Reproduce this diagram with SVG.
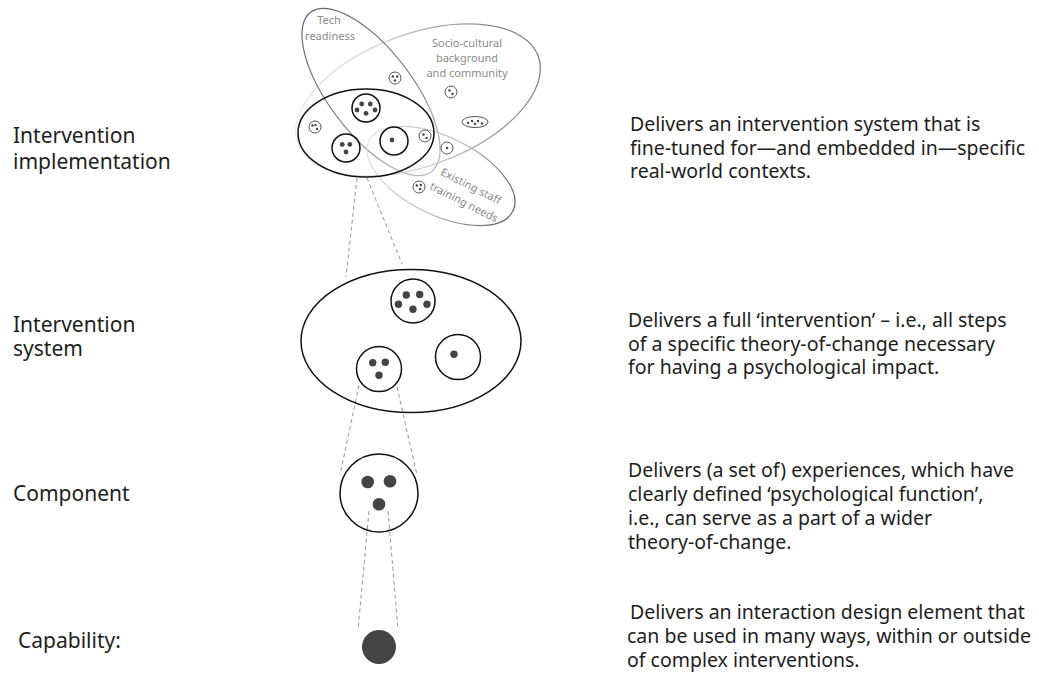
<svg xmlns="http://www.w3.org/2000/svg" width="1039" height="679" viewBox="0 0 1039 679">
<style>
  .lbl { font-family: "Noto Sans", "Open Sans", sans-serif; font-size: 21px; fill: #1e1e1e; }
  .desc { font-family: "Noto Sans", "Open Sans", sans-serif; font-size: 19.5px; fill: #1e1e1e; }
  .ctx { font-family: "Noto Sans", "Open Sans", sans-serif; font-size: 11px; fill: #8a8a8a; text-anchor: middle; }
  .ring { fill: none; stroke: #111; stroke-width: 1.5; }
  .dot { fill: #444; }
  .mini { fill: #fff; stroke: #555; stroke-width: 1; }
  .mdot { fill: #444; }
  .dash { stroke: #999; stroke-width: 1; stroke-dasharray: 4 3; fill: none; }
</style>
<defs>
  <linearGradient id="gSocio" x1="0" y1="0" x2="1" y2="0">
    <stop offset="0" stop-color="#ececec"/>
    <stop offset="0.45" stop-color="#c8c8c8"/>
    <stop offset="1" stop-color="#777"/>
  </linearGradient>
  <linearGradient id="gStaff" x1="0" y1="0" x2="1" y2="0">
    <stop offset="0" stop-color="#e2e2e2"/>
    <stop offset="0.5" stop-color="#bbb"/>
    <stop offset="1" stop-color="#666"/>
  </linearGradient>
  <linearGradient id="gTech" x1="0" y1="0" x2="1" y2="0">
    <stop offset="0" stop-color="#666"/>
    <stop offset="0.6" stop-color="#888"/>
    <stop offset="1" stop-color="#bbb"/>
  </linearGradient>
</defs>

<!-- Left labels -->
<g id="labels-left">
  <text class="lbl" x="13" y="143">Intervention</text>
  <text class="lbl" x="13" y="169">implementation</text>
  <text class="lbl" x="13" y="332">Intervention</text>
  <text class="lbl" x="13" y="356">system</text>
  <text class="lbl" x="13" y="501">Component</text>
  <text class="lbl" x="18" y="648">Capability:</text>
</g>

<!-- Right descriptions -->
<g id="descriptions">
  <text class="desc" x="630" y="131">Delivers an intervention system that is</text>
  <text class="desc" x="630" y="154.5">fine-tuned for—and embedded in—specific</text>
  <text class="desc" x="630" y="178">real-world contexts.</text>

  <text class="desc" x="628" y="327">Delivers a full ‘intervention’ – i.e., all steps</text>
  <text class="desc" x="628" y="351">of a specific theory-of-change necessary</text>
  <text class="desc" x="628" y="374">for having a psychological impact.</text>

  <text class="desc" x="628" y="477">Delivers (a set of) experiences, which have</text>
  <text class="desc" x="628" y="501">clearly defined ‘psychological function’,</text>
  <text class="desc" x="628" y="525">i.e., can serve as a part of a wider</text>
  <text class="desc" x="628" y="549">theory-of-change.</text>

  <text class="desc" x="630" y="619">Delivers an interaction design element that</text>
  <text class="desc" x="627" y="643">can be used in many ways, within or outside</text>
  <text class="desc" x="627" y="667">of complex interventions.</text>
</g>

<!-- Context ellipses -->
<g id="context-socio">
  <ellipse cx="0" cy="0" rx="128" ry="66" transform="translate(418,100) rotate(-20)" fill="none" stroke="url(#gSocio)" stroke-width="1.2"/>
  <text class="ctx" x="467" y="47">Socio-cultural</text>
  <text class="ctx" x="467" y="62">background</text>
  <text class="ctx" x="467" y="77">and community</text>
</g>
<g id="context-tech">
  <ellipse cx="0" cy="0" rx="100" ry="42" transform="translate(371,92) rotate(52.8)" fill="none" stroke="url(#gTech)" stroke-width="1.2"/>
  <text class="ctx" x="329" y="24">Tech</text>
  <text class="ctx" x="330" y="40">readiness</text>
</g>
<g id="context-staff">
  <ellipse cx="0" cy="0" rx="80" ry="39" transform="translate(441,176) rotate(26)" fill="none" stroke="url(#gStaff)" stroke-width="1.2"/>
  <text class="ctx" transform="translate(471,186) rotate(27)" x="0" y="4">Existing staff</text>
  <text class="ctx" transform="translate(464,202) rotate(27)" x="0" y="4">training needs</text>
</g>

<!-- Connectors -->
<g id="connectors">
  <line class="dash" x1="357" y1="178" x2="346" y2="277"/>
  <line class="dash" x1="367" y1="178" x2="402" y2="264"/>
  <line class="dash" x1="359" y1="385" x2="340" y2="475"/>
  <line class="dash" x1="397" y1="387" x2="417" y2="475"/>
  <line class="dash" x1="369" y1="511" x2="358" y2="630"/>
  <line class="dash" x1="388" y1="511" x2="398" y2="630"/>
</g>

<!-- Intervention implementation -->
<g id="node-implementation">
  <ellipse class="ring" cx="366" cy="133" rx="68" ry="44" stroke-width="1.8"/>
  <circle class="ring" cx="366" cy="108" r="14"/>
  <circle class="dot" cx="361.7" cy="104" r="2.4"/>
  <circle class="dot" cx="370.3" cy="104" r="2.4"/>
  <circle class="dot" cx="357" cy="110" r="2.4"/>
  <circle class="dot" cx="366" cy="113.3" r="2.4"/>
  <circle class="dot" cx="375" cy="110" r="2.4"/>
  <circle class="ring" cx="346" cy="148" r="14"/>
  <circle class="dot" cx="342.2" cy="144.4" r="2.4"/>
  <circle class="dot" cx="349.8" cy="144.4" r="2.4"/>
  <circle class="dot" cx="346" cy="152" r="2.4"/>
  <circle class="ring" cx="394" cy="141" r="14"/>
  <circle class="dot" cx="392" cy="140" r="2.4"/>
</g>

<!-- Small context items -->
<g id="mini-items">
  <circle class="mini" cx="315" cy="127" r="6"/>
  <circle class="mdot" cx="312.5" cy="125.5" r="1.2"/><circle class="mdot" cx="315.5" cy="125" r="1.2"/><circle class="mdot" cx="317" cy="129" r="1.2"/>
  <circle class="mini" cx="395" cy="78" r="6"/>
  <circle class="mdot" cx="392.8" cy="76.5" r="1.2"/><circle class="mdot" cx="397.2" cy="76.5" r="1.2"/><circle class="mdot" cx="395" cy="80.5" r="1.2"/>
  <circle class="mini" cx="451" cy="92" r="6"/>
  <circle class="mdot" cx="449.5" cy="90.5" r="1.2"/><circle class="mdot" cx="452.5" cy="94" r="1.2"/>
  <ellipse class="mini" cx="475" cy="122" rx="13" ry="5.5"/>
  <circle class="mdot" cx="468" cy="123" r="1.2"/><circle class="mdot" cx="472" cy="121" r="1.2"/><circle class="mdot" cx="475" cy="124" r="1.2"/><circle class="mdot" cx="478" cy="121" r="1.2"/><circle class="mdot" cx="482" cy="123.5" r="1.2"/>
  <circle class="mini" cx="425" cy="136" r="6"/>
  <circle class="mdot" cx="423.5" cy="134.5" r="1.2"/><circle class="mdot" cx="426.5" cy="138" r="1.2"/>
  <circle class="mini" cx="447" cy="148" r="6"/>
  <circle class="mdot" cx="447" cy="148" r="1.2"/>
  <circle class="mini" cx="419" cy="187" r="6"/>
  <circle class="mdot" cx="416.8" cy="185.5" r="1.2"/><circle class="mdot" cx="420.8" cy="185" r="1.2"/><circle class="mdot" cx="420" cy="189" r="1.2"/>
</g>

<!-- Intervention system -->
<g id="node-system">
  <ellipse class="ring" cx="411" cy="341" rx="110" ry="71.5"/>
  <circle class="ring" cx="413" cy="301" r="22"/>
  <circle class="dot" cx="406.3" cy="295" r="3.7"/>
  <circle class="dot" cx="419.7" cy="294.5" r="3.7"/>
  <circle class="dot" cx="398.5" cy="304.3" r="3.7"/>
  <circle class="dot" cx="413" cy="309.3" r="3.7"/>
  <circle class="dot" cx="427" cy="304.3" r="3.7"/>
  <circle class="ring" cx="458" cy="357" r="22.5"/>
  <circle class="dot" cx="454" cy="354.3" r="3.7"/>
  <circle class="ring" cx="379" cy="369" r="22.5"/>
  <circle class="dot" cx="372.7" cy="362.7" r="3.7"/>
  <circle class="dot" cx="385.3" cy="362.3" r="3.7"/>
  <circle class="dot" cx="379" cy="375.3" r="3.7"/>
</g>

<!-- Component -->
<g id="node-component">
  <circle class="ring" cx="379" cy="493" r="39"/>
  <circle class="dot" cx="367.7" cy="482" r="6.3"/>
  <circle class="dot" cx="390" cy="481.3" r="6.3"/>
  <circle class="dot" cx="379" cy="504.3" r="6.3"/>
</g>

<!-- Capability -->
<g id="node-capability">
  <circle class="dot" cx="379" cy="647" r="17"/>
</g>
</svg>
